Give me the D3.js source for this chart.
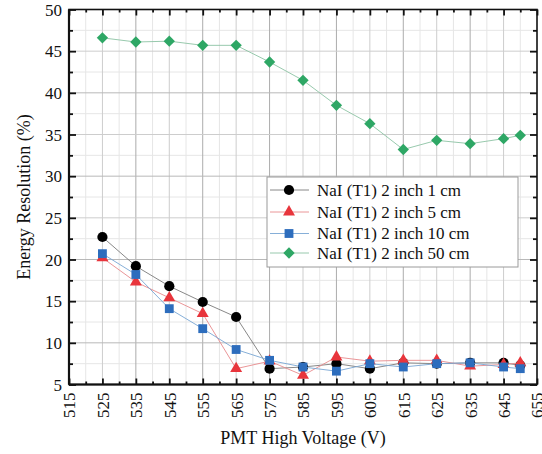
<!DOCTYPE html>
<html>
<head>
<meta charset="utf-8">
<script src="https://cdn.jsdelivr.net/npm/d3@7/dist/d3.min.js"></script>
<style>
  html, body { margin: 0; padding: 0; background: #fff; }
  svg { display: block; }
  svg text { font-family: "Liberation Serif", "Times New Roman", Tinos, "DejaVu Serif", "Noto Serif", serif !important; fill: #111; }
</style>
</head>
<body>
<svg id="chart" width="542" height="454" font-family="Liberation Serif, DejaVu Serif, serif"></svg>
<script>
const voltages = [525, 535, 545, 555, 565, 575, 585, 595, 605, 615, 625, 635, 645, 650];
const series1cm  = [22.7, 19.2, 16.8, 14.9, 13.1, 6.9, 7.1, 7.5, 6.9, 7.6, 7.5, 7.6, 7.6, 7.3];
const series5cm  = [20.2, 17.3, 15.4, 13.5, 6.9, 7.8, 6.1, 8.3, 7.8, 7.9, 7.9, 7.2, 7.4, 7.6];
const series10cm = [20.7, 18.2, 14.1, 11.7, 9.2, 7.9, 7.1, 6.6, 7.5, 7.1, 7.5, 7.6, 7.1, 6.9];
const series50cm = [46.6, 46.1, 46.2, 45.7, 45.7, 43.7, 41.5, 38.5, 36.3, 33.2, 34.3, 33.9, 34.5, 34.9];
const seriesNames = ["NaI (T1) 2 inch 1 cm", "NaI (T1) 2 inch 5 cm", "NaI (T1) 2 inch 10 cm", "NaI (T1) 2 inch 50 cm"];
const xTicks = [515, 525, 535, 545, 555, 565, 575, 585, 595, 605, 615, 625, 635, 645, 655];
const yTicks = [5, 10, 15, 20, 25, 30, 35, 40, 45, 50];
const xTitle = "PMT High Voltage (V)";
const yTitle = "Energy Resolution (%)";

const FONT = "'Liberation Serif', 'Times New Roman', Tinos, 'DejaVu Serif', serif";
const svg = d3.select("#chart");
const L = 69, R = 537, T = 9.5, B = 384.5;
const x = d3.scaleLinear().domain([515, 655]).range([L, R]);
const y = d3.scaleLinear().domain([5, 50]).range([B, T]);

const styles = [
  { data: series1cm,  color: "#000000", line: "#7a7a7a", symbol: d3.symbolCircle,   size: 82, rot: 0 },
  { data: series5cm,  color: "#e8353c", line: "#e88a8c", symbol: d3.symbolTriangle, size: 62, rot: 0 },
  { data: series10cm, color: "#2d6dbd", line: "#78a6d4", symbol: d3.symbolSquare,   size: 78, rot: 0 },
  { data: series50cm, color: "#2ea765", line: "#8cc3a4", symbol: d3.symbolSquare,   size: 64, rot: 45 }
];

// grid
const grid = svg.append("g");
const xMinor = d3.range(520, 655, 10);
const yMinor = d3.range(7.5, 50, 5);
grid.selectAll(".vm").data(xMinor).join("line")
  .attr("x1", d => x(d)).attr("x2", d => x(d)).attr("y1", T).attr("y2", B)
  .attr("stroke", "#e6e6e6").attr("stroke-width", 1);
grid.selectAll(".hm").data(yMinor).join("line")
  .attr("y1", d => y(d)).attr("y2", d => y(d)).attr("x1", L).attr("x2", R)
  .attr("stroke", "#e6e6e6").attr("stroke-width", 1);
grid.selectAll(".vM").data(xTicks.slice(1, -1)).join("line")
  .attr("x1", d => x(d)).attr("x2", d => x(d)).attr("y1", T).attr("y2", B)
  .attr("stroke", d => ((d - 515) % 20 === 0) ? "#acacac" : "#cdcdcd").attr("stroke-width", 1);
grid.selectAll(".hM").data(yTicks.slice(1, -1)).join("line")
  .attr("y1", d => y(d)).attr("y2", d => y(d)).attr("x1", L).attr("x2", R)
  .attr("stroke", d => (d % 10 === 0) ? "#b8b8b8" : "#cdcdcd").attr("stroke-width", 1);

// axes (ticks inward)
const fmt = d3.format("d");
const xAxisB = d3.axisBottom(x).tickValues(xTicks).tickSize(-6).tickFormat(fmt);
const xAxisT = d3.axisTop(x).tickValues(xTicks).tickSize(-6).tickFormat("");
const yAxisL = d3.axisLeft(y).tickValues(yTicks).tickSize(-7).tickFormat(fmt);
const yAxisR = d3.axisRight(y).tickValues(yTicks).tickSize(-7).tickFormat("");
const xMinorB = d3.axisBottom(x).tickValues(xMinor).tickSize(-3).tickFormat("");
const xMinorT = d3.axisTop(x).tickValues(xMinor).tickSize(-3).tickFormat("");
const yMinorL = d3.axisLeft(y).tickValues(yMinor).tickSize(-4).tickFormat("");
const yMinorR = d3.axisRight(y).tickValues(yMinor).tickSize(-4).tickFormat("");

function styleAxis(g) {
  g.attr("font-family", null);
  g.select(".domain").remove();
  g.selectAll(".tick line").attr("stroke", "#111").attr("stroke-width", 1.8);
}
const gxb = svg.append("g").attr("transform", `translate(0,${B})`).call(xAxisB).call(styleAxis);
gxb.selectAll(".tick text")
  .attr("transform", "rotate(-90)")
  .attr("x", -8).attr("y", 0).attr("dy", "0.35em")
  .attr("text-anchor", "end")
  .style("font-size", "17px").style("font-family", FONT).attr("fill", "#111");
svg.append("g").attr("transform", `translate(0,${T})`).call(xAxisT).call(styleAxis);
const gyl = svg.append("g").attr("transform", `translate(${L},0)`).call(yAxisL).call(styleAxis);
gyl.selectAll(".tick text").attr("x", -7).attr("dy", "0.34em")
  .style("font-size", "17px").style("font-family", FONT).attr("fill", "#111");
svg.append("g").attr("transform", `translate(${R},0)`).call(yAxisR).call(styleAxis);
svg.append("g").attr("transform", `translate(0,${B})`).call(xMinorB).call(styleAxis);
svg.append("g").attr("transform", `translate(0,${T})`).call(xMinorT).call(styleAxis);
svg.append("g").attr("transform", `translate(${L},0)`).call(yMinorL).call(styleAxis);
svg.append("g").attr("transform", `translate(${R},0)`).call(yMinorR).call(styleAxis);

// frame
svg.append("rect").attr("x", L).attr("y", T).attr("width", R - L).attr("height", B - T)
  .attr("fill", "none").attr("stroke", "#111").attr("stroke-width", 1.6);
svg.append("line").attr("x1", L).attr("x2", L).attr("y1", T).attr("y2", B)
  .attr("stroke", "#111").attr("stroke-width", 2.2);
svg.append("line").attr("x1", L).attr("x2", R).attr("y1", B).attr("y2", B)
  .attr("stroke", "#111").attr("stroke-width", 2.2);

// series
const lineGen = d3.line().x((d, i) => x(voltages[i])).y(d => y(d));
styles.forEach(s => {
  const g = svg.append("g");
  g.append("path").datum(s.data).attr("d", lineGen)
    .attr("fill", "none").attr("stroke", s.line).attr("stroke-width", 0.9);
  g.selectAll("path.m").data(s.data).join("path").attr("class", "m")
    .attr("d", d3.symbol().type(s.symbol).size(s.size))
    .attr("transform", (d, i) => `translate(${x(voltages[i])},${y(d)}) rotate(${s.rot})`)
    .attr("fill", s.color);
});

// legend
const lg = svg.append("g");
lg.append("rect").attr("x", 267).attr("y", 177).attr("width", 251).attr("height", 90)
  .attr("fill", "#fff").attr("stroke", "#9a9a9a").attr("stroke-width", 1);
const rowY = [190, 212, 233.5, 253];
styles.forEach((s, i) => {
  lg.append("line").attr("x1", 270).attr("x2", 309).attr("y1", rowY[i]).attr("y2", rowY[i])
    .attr("stroke", s.line).attr("stroke-width", 0.9);
  lg.append("path").attr("d", d3.symbol().type(s.symbol).size(s.size))
    .attr("transform", `translate(289,${rowY[i]}) rotate(${s.rot})`).attr("fill", s.color);
  lg.append("text").attr("x", 317).attr("y", rowY[i]).attr("dy", "0.35em")
    .style("font-size", "17px").style("font-family", FONT).text(seriesNames[i]);
});

// titles
svg.append("text").attr("x", (L + R) / 2).attr("y", 444).attr("text-anchor", "middle")
  .style("font-size", "18px").style("font-family", FONT).text(xTitle);
svg.append("text").attr("transform", `translate(30,${(T + B) / 2}) rotate(-90)`)
  .attr("text-anchor", "middle").style("font-size", "18px").style("font-family", FONT).text(yTitle);
</script>
</body>
</html>
